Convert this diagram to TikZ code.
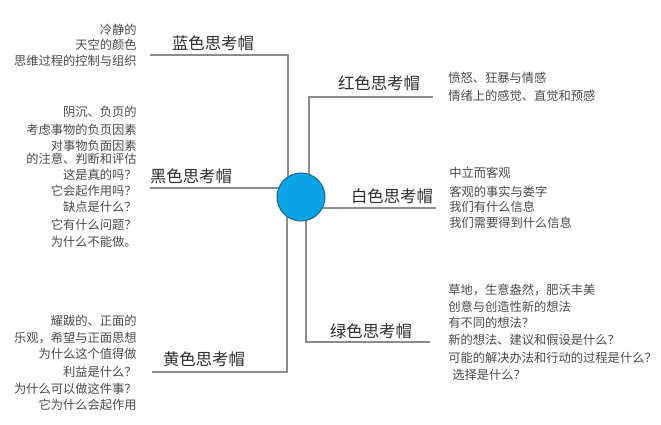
\documentclass[tikz,border=0pt]{standalone}
\usepackage{fontspec}
\setmainfont{Noto Sans CJK SC}
\definecolor{linegray}{HTML}{8C8C8C}
\definecolor{titlegray}{HTML}{2E2E2E}
\definecolor{descgray}{HTML}{4A4A4A}
\definecolor{hatblue}{HTML}{0AA3E6}
\definecolor{hatrim}{HTML}{1D6C9C}
\tikzset{
  conn/.style={draw=linegray, line width=0.9pt},
  hattitle/.style={font=\fontsize{12.3}{14}\selectfont, text=titlegray, inner sep=0pt},
  descl/.style={font=\fontsize{9.2}{11}\selectfont, text=descgray, inner sep=0pt, anchor=west},
  descr/.style={font=\fontsize{9.2}{11}\selectfont, text=descgray, inner sep=0pt, anchor=east},
}
\begin{document}
\begin{tikzpicture}[x=0.75pt,y=-0.75pt]
\useasboundingbox (0,0) rectangle (661,425);
\fill[white] (0,0) rectangle (661,425);
% centre point for connectors
\coordinate (hub) at (301,197);
% connector ends
\coordinate (blueA) at (150,55);  \coordinate (blueB) at (288,55);  \coordinate (blueC) at (288,197);
\coordinate (redA) at (433,97);   \coordinate (redB) at (309,97);   \coordinate (redC) at (309,197);
\coordinate (blackA) at (150,188); \coordinate (blackB) at (301,188);
\coordinate (whiteA) at (301,208); \coordinate (whiteB) at (436,208);
\coordinate (yelA) at (152,372);  \coordinate (yelB) at (287,372);  \coordinate (yelC) at (287,197);
\coordinate (grnA) at (430,342);  \coordinate (grnB) at (306,342);  \coordinate (grnC) at (306,197);
\draw[conn] (blueA) -- (blueB) -- (blueC);
\draw[conn] (redA) -- (redB) -- (redC);
\draw[conn] (blackA) -- (blackB);
\draw[conn] (whiteA) -- (whiteB);
\draw[conn] (yelA) -- (yelB) -- (yelC);
\draw[conn] (grnA) -- (grnB) -- (grnC);
% hub circle
\node[circle, minimum size=48*0.75pt, inner sep=0pt, fill=hatblue, draw=hatrim, line width=0.8pt] (c) at (hub) {};
% titles
\node[hattitle] (tblue) at (213,43) {蓝色思考帽};
\node[hattitle] (tblack) at (191,176) {黑色思考帽};
\node[hattitle] (tyel) at (204,359) {黄色思考帽};
\node[hattitle] (tred) at (379,83) {红色思考帽};
\node[hattitle] (twhite) at (392,196) {白色思考帽};
\node[hattitle] (tgrn) at (371,331) {绿色思考帽};
% blue description
\node[descr] (b1) at (137,30) {冷静的};
\node[descr] (b2) at (137,45) {天空的颜色};
\node[descr] (b3) at (137,61) {思维过程的控制与组织};
% black description
\node[descr] (k1) at (137,112) {阴沉、负页的};
\node[descr] (k2) at (137,130) {考虑事物的负页因素};
\node[descr] (k3) at (137,146) {对事物负面因素};
\node[descr] (k4) at (137,159) {的注意、判断和评估};
\node[descr] (k5) at (137,175) {这是真的吗？};
\node[descr] (k6) at (137,191) {它会起作用吗？};
\node[descr] (k7) at (137,207) {缺点是什么？};
\node[descr] (k8) at (137,225) {它有什么问题？};
\node[descr] (k9) at (137,242) {为什么不能做。};
% yellow description
\node[descr] (y1) at (137,321) {耀跋的、正面的};
\node[descr] (y2) at (137,338) {乐观，希望与正面思想};
\node[descr] (y3) at (137,354) {为什么这个值得做};
\node[descr] (y4) at (137,372) {利益是什么？};
\node[descr] (y5) at (137,389) {为什么可以做这件事？};
\node[descr] (y6) at (137,405) {它为什么会起作用};
% red description
\node[descl] (r1) at (448,78) {愤怒、狂暴与情感};
\node[descl] (r2) at (448,96) {情绪上的感觉、直觉和预感};
% white description
\node[descl] (w1) at (449,173) {中立而客观};
\node[descl] (w2) at (449,192) {客观的事实与娄字};
\node[descl] (w3) at (449,207) {我们有什么信息};
\node[descl] (w4) at (449,223) {我们需要得到什么信息};
% green description
\node[descl] (g1) at (448,290) {草地，生意盎然，肥沃丰美};
\node[descl] (g2) at (448,307) {创意与创造性新的想法};
\node[descl] (g3) at (448,323) {有不同的想法？};
\node[descl] (g4) at (448,340) {新的想法、建议和假设是什么？};
\node[descl] (g5) at (448,358) {可能的解决办法和行动的过程是什么？};
\node[descl] (g6) at (452,375) {选择是什么？};
\end{tikzpicture}
\end{document}
